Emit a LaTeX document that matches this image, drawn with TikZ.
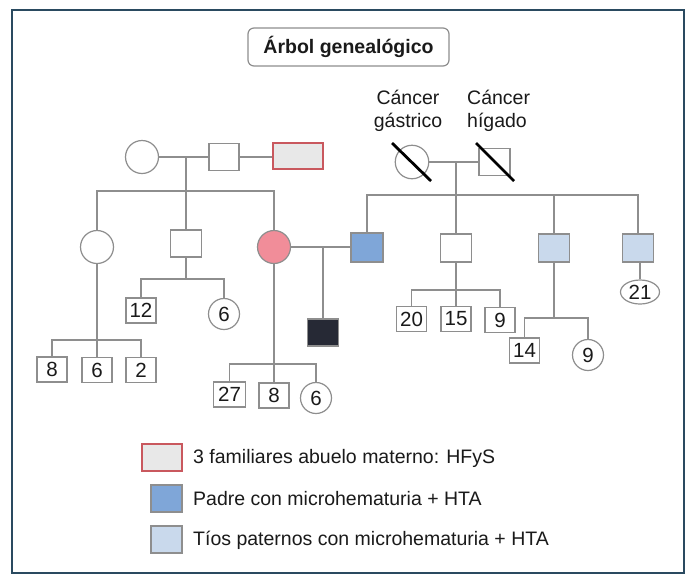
\documentclass[tikz,border=0pt]{standalone}
\usepackage{fontspec}
\setmainfont{Liberation Sans}
\usetikzlibrary{shapes.geometric}
\definecolor{lnc}{HTML}{8E8E8E}
\definecolor{framec}{HTML}{2A4A60}
\definecolor{pinkc}{HTML}{F18D99}
\definecolor{bluec}{HTML}{7FA6D8}
\definecolor{lbluec}{HTML}{C9D9EC}
\definecolor{darkc}{HTML}{262935}
\definecolor{redc}{HTML}{C9585E}
\definecolor{grayf}{HTML}{E8E8E8}
\definecolor{txtc}{HTML}{1A1A1A}
\tikzset{
  ln/.style={draw=lnc, line width=1.2pt},
  bigsq/.style={rectangle, draw=lnc, line width=1.2pt, fill=white, minimum width=31pt, minimum height=28pt, inner sep=0pt},
  numsq/.style={rectangle, draw=lnc, line width=1.2pt, fill=white, minimum width=30pt, minimum height=25pt, inner sep=0pt, text=txtc, font=\fontsize{20.5}{22}\selectfont},
  bigcirc/.style={circle, draw=lnc, line width=1.2pt, fill=white, minimum size=33pt, inner sep=0pt},
  numcirc/.style={circle, draw=lnc, line width=1.2pt, fill=white, minimum size=31pt, inner sep=0pt, text=txtc, font=\fontsize{20.5}{22}\selectfont},
  numell/.style={ellipse, draw=lnc, line width=1.2pt, fill=white, minimum width=39pt, minimum height=24pt, inner sep=0pt, text=txtc, font=\fontsize{20.5}{22}\selectfont},
  lbl/.style={text=txtc, font=\fontsize{19.5}{23}\selectfont, inner sep=0pt},
  slash/.style={draw=black, line width=2.8pt},
}
\begin{document}
\begin{tikzpicture}[x=1pt,y=-1pt]
\useasboundingbox (0,0) rectangle (700,587);
\fill[white] (0,0) rectangle (700,587);
\draw[framec, line width=1.5pt] (12,10) rectangle (684,573);

% title
\node[draw=lnc, line width=1.2pt, rounded corners=6pt, minimum width=201pt, minimum height=38pt, inner sep=0pt, text=txtc, font=\bfseries\fontsize{19.5}{23}\selectfont] (title) at (348.5,47) {Árbol genealógico};

% maternal grandparents
\node[bigcirc] (gm) at (142,157) {};
\node[bigsq, minimum width=30pt, minimum height=27pt] (gf) at (224,157) {};
\node[rectangle, draw=redc, line width=1.2pt, fill=grayf, minimum width=50pt, minimum height=26pt, inner sep=0pt] (rel) at (298,156) {};
\coordinate (m1) at (186,157);
\coordinate (s1) at (186,191);
\draw[ln] (gm.east) -- (gf.west);
\draw[ln] (gf.east) -- (gf.east -| rel.west);

% generation 2 maternal
\node[bigcirc] (a1) at (97,247) {};
\node[bigsq, minimum height=27pt] (a2) at (186,243.5) {};
\node[bigcirc, fill=pinkc] (mo) at (274,247) {};
\draw[ln] (a1.north) |- (s1) -| (mo.north);
\draw[ln] (m1) -- (s1) -- (a2.north);

% father
\node[bigsq, fill=bluec, minimum width=32pt, minimum height=29pt] (fa) at (367,247.5) {};
\draw[ln] (mo.east) -- (mo.east -| fa.west);
\coordinate (m2) at (323,247);
\node[bigsq, fill=darkc, minimum height=27pt] (d1) at (323,332.5) {};
\draw[ln] (m2) -- (d1.north);

% paternal grandparents
\node[lbl, align=center] (lg) at (408,111) {Cáncer\\gástrico};
\node[lbl, align=left, anchor=west] (lh) at (467,111) {Cáncer\\hígado};
\node[bigcirc, minimum size=33.5pt] (pgm) at (412,162) {};
\node[bigsq, minimum height=27pt] (pgf) at (494.5,162) {};
\draw[ln] (pgm.east) -- (pgf.west);
\draw[slash] ([shift={(-20,-19)}]pgm.center) -- ([shift={(19,19)}]pgm.center);
\draw[slash] ([shift={(-18.5,-19)}]pgf.center) -- ([shift={(19.5,19)}]pgf.center);
\coordinate (m3) at (456,162);
\coordinate (s3) at (456,195);

% generation 2 paternal
\node[bigsq] (u1) at (456,248) {};
\node[bigsq, fill=lbluec] (u2) at (554,248) {};
\node[bigsq, fill=lbluec] (u3) at (638,248) {};
\draw[ln] (fa.north) |- (s3) -| (u3.north);
\draw[ln] (m3) -- (s3) -- (u1.north);
\draw[ln] (u2.north) -- (u2.north |- s3);

% generation 3: a1 children
\coordinate (s4) at (97,340);
\node[numsq] (b1) at (52,369.5) {8};
\node[numsq] (b2) at (97,370) {6};
\node[numsq] (b3) at (141,370) {2};
\draw[ln] (b1.north) |- (s4) -| (b3.north);
\draw[ln] (a1.south) -- (b2.north);

% a2 children
\coordinate (s5) at (186,279);
\node[numsq] (c1) at (141,310.5) {12};
\node[numcirc] (c2) at (224,314) {6};
\draw[ln] (c1.north) |- (s5) -| (c2.north);
\draw[ln] (a2.south) -- (s5);

% mother children
\coordinate (s6) at (274,364);
\node[numsq, minimum width=32pt] (e1) at (229.5,394.5) {27};
\node[numsq] (e2) at (274,395.5) {8};
\node[numcirc] (e3) at (316,398) {6};
\draw[ln] (e1.north) |- (s6) -| (e3.north);
\draw[ln] (mo.south) -- (e2.north);

% u1 children
\coordinate (s7) at (456,290);
\node[numsq] (f1) at (411.5,319) {20};
\node[numsq] (f2) at (456,319) {15};
\node[numsq] (f3) at (500,320) {9};
\draw[ln] (f1.north) |- (s7) -| (f3.north);
\draw[ln] (u1.south) -- (f2.north);

% u2 children
\coordinate (s8) at (554,318);
\node[numsq] (g1) at (524.5,350.5) {14};
\node[numcirc] (g2) at (588,355) {9};
\draw[ln] (g1.north) |- (s8) -| (g2.north);
\draw[ln] (u2.south) -- (s8);

% u3 child
\node[numell] (h1) at (640,292) {21};
\draw[ln] (u3.south -| h1.north) -- (h1.north);

% legend
\node[rectangle, draw=redc, line width=1.2pt, fill=grayf, minimum width=40pt, minimum height=27pt, inner sep=0pt] (l1) at (162,457.5) {};
\node[lbl, anchor=west] (t1) at (193,458) {3 familiares abuelo materno: HFyS};
\node[bigsq, fill=bluec, minimum height=27pt] (l2) at (166.5,498.5) {};
\node[lbl, anchor=west] (t2) at (193,499) {Padre con microhematuria + HTA};
\node[bigsq, fill=lbluec, minimum height=27pt] (l3) at (166.5,539.5) {};
\node[lbl, anchor=west] (t3) at (193,540) {Tíos paternos con microhematuria + HTA};
\end{tikzpicture}
\end{document}
